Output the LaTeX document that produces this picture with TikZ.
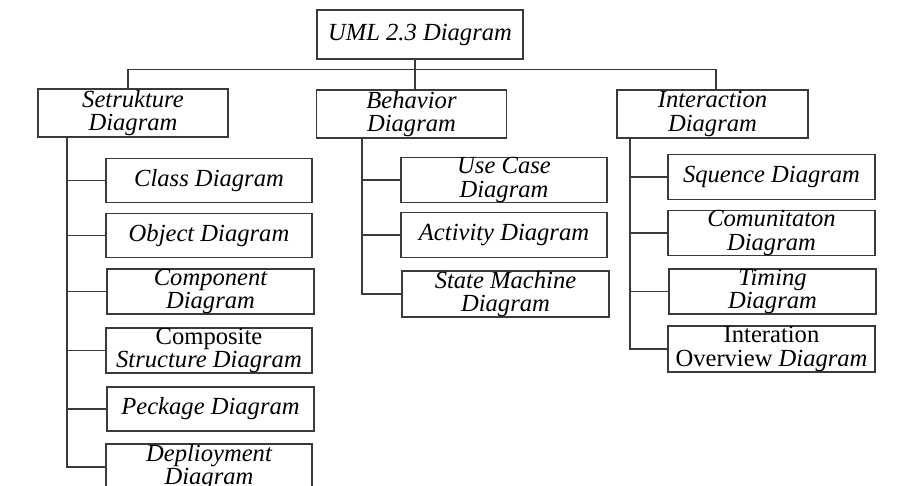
\documentclass[tikz,border=0pt]{standalone}
\usepackage{fontspec}
\setmainfont{Liberation Serif}
\usetikzlibrary{positioning}
\definecolor{LineGray}{HTML}{3A3A3A}
\tikzset{
  diag/.style={draw=LineGray,line width=0.8pt,inner sep=0pt,align=center,
    font=\fontsize{14}{13.5}\selectfont\itshape,text=black},
  head/.style={diag,minimum width=3.8cm,minimum height=0.96cm},
  leaf/.style={diag,minimum width=4.12cm,minimum height=0.89cm},
  heavy/.style={line width=1.2pt},
  link/.style={draw=LineGray,line width=0.8pt},
}

\begin{document}
\begin{tikzpicture}[x=0.02cm,y=-0.02cm,line cap=rect]

\useasboundingbox (0,0) rectangle (902,486);
\clip (0,0) rectangle (902,486);
\fill[white] (0,0) rectangle (902,486);

% Root and the three groups
\node[head,minimum width=4.12cm,minimum height=0.98cm] (root) at (420,34.5) {UML 2.3 Diagram};
\node[head,heavy] (setr) at (133,113) {Setrukture\\Diagram};
\node[head] (behav) at (411.5,114) {Behavior\\Diagram};
\node[head,minimum width=3.82cm] (inter) at (712.5,114) {Interaction\\Diagram};

% Structure diagrams
\node[leaf] (cls) at (209,180.5) {Class Diagram};
\node[leaf] (obj) at (209,235.5) {Object Diagram};
\node[leaf,minimum width=4.14cm] (comp) at (210.5,291.5) {Component\\Diagram};
\node[leaf] (csd) at (209,350.5) {{\upshape Composite}\\Structure Diagram};
\node[leaf,heavy,minimum width=4.14cm] (pkg) at (210.5,409) {Peckage Diagram};
\node[leaf] (dep) at (209,467) {Deplioyment\\Diagram};

% Behavior diagrams
\node[leaf] (uc) at (504,180) {Use Case\\Diagram};
\node[leaf] (act) at (504,235) {Activity Diagram};
\node[leaf,minimum width=4.14cm] (sm) at (505.5,294) {State Machine\\Diagram};

% Interaction diagrams
\node[leaf,minimum width=4.14cm] (sq) at (771.5,177) {Squence Diagram};
\node[leaf,minimum width=4.14cm] (com) at (771.5,233) {Comunitaton\\Diagram};
\node[leaf,minimum width=4.14cm] (tim) at (772.5,291.5) {Timing\\Diagram};
\node[leaf,heavy,minimum width=4.14cm] (io) at (771.5,349) {{\upshape Interation}\\{\upshape Overview} Diagram};

% Bus from the root
\coordinate (busL) at (128,69.5);
\coordinate (busM) at (415,69.5);
\coordinate (busR) at (716,69.5);
\draw[link] (busL |- setr.north) -- (busL) -- (busR) -- (busR |- inter.north);
\draw[link] (busM |- root.south) -- (busM |- behav.north);

% Trunks
\coordinate (sT) at (67,0);
\coordinate (bT) at (362,0);
\coordinate (iT) at (630,0);
\foreach \n in {cls,obj,comp,csd,pkg,dep}
  \draw[link,line width=1.1pt] (sT |- setr.south) |- (\n.west);
\foreach \n in {uc,act,sm}
  \draw[link] (bT |- behav.south) |- (\n.west);
\foreach \n in {sq,com,tim,io}
  \draw[link] (iT |- inter.south) |- (\n.west);

\end{tikzpicture}
\end{document}
